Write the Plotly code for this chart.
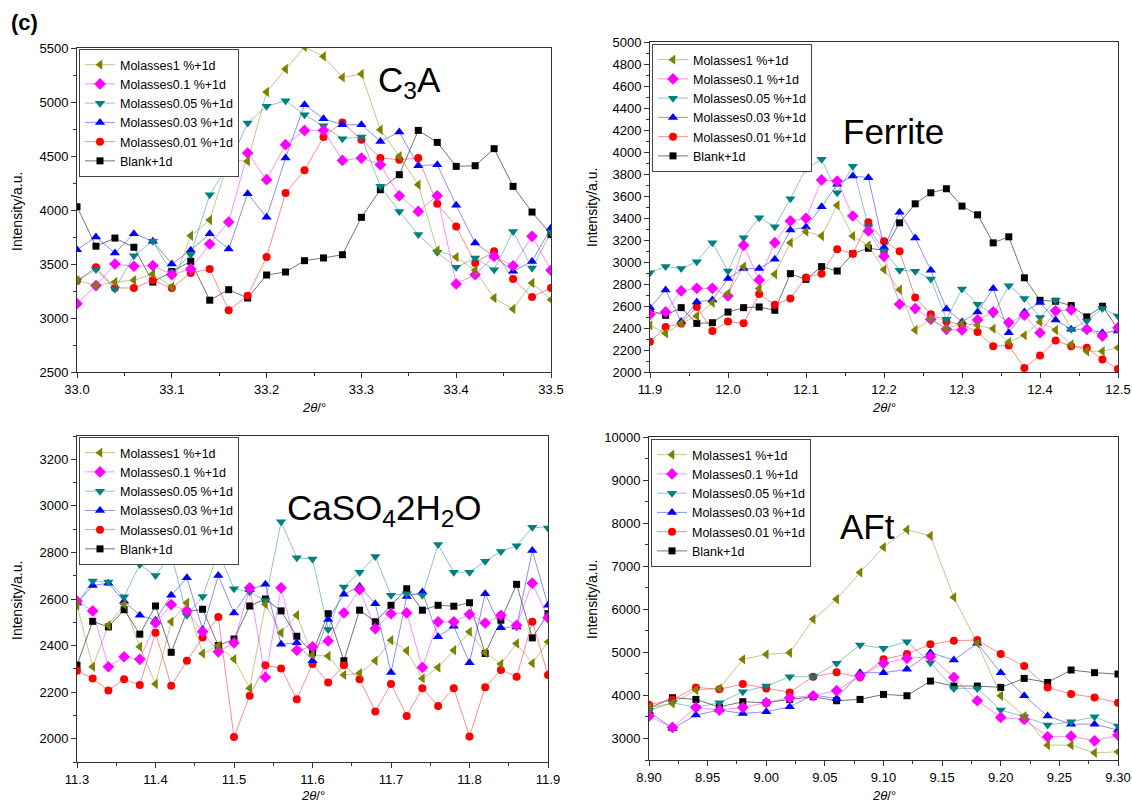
import plotly.graph_objects as go

W, H = 1132, 803

# ---------------- data ----------------
NAMES = ["Molasses1 %+1d", "Molasses0.1 %+1d", "Molasses0.05 %+1d",
         "Molasses0.03 %+1d", "Molasses0.01 %+1d", "Blank+1d"]

C3A_X = [33.00, 33.02, 33.04, 33.06, 33.08, 33.10, 33.12, 33.14, 33.16, 33.18, 33.20, 33.22, 33.24,
         33.26, 33.28, 33.30, 33.32, 33.34, 33.36, 33.38, 33.40, 33.42, 33.44, 33.46, 33.48, 33.50]
C3A_M1 = [3349, 3300, 3333, 3349, 3407, 3287, 3762, 3907, 4463, 4451, 5093, 5306, 5510,
          5422, 5228, 5259, 4743, 4497, 4234, 3626, 3564, 3441, 3185, 3083, 3324, 3170]
C3A_M01 = [3133, 3300, 3500, 3479, 3485, 3401, 3454, 3685, 3889, 4528, 4281, 4605, 4737,
           4737, 4459, 4481, 4420, 4132, 3987, 4132, 3315, 3401, 3571, 3484, 3756, 3441]
C3A_M005 = [3345, 3448, 3269, 3577, 3710, 3420, 3587, 4142, 4420, 4806, 4960, 5012, 4882,
            4780, 4660, 4676, 4219, 3987, 3772, 3608, 3469, 3556, 3447, 3802, 3463, 3793]
C3A_M003 = [3633, 3750, 3602, 3781, 3710, 3500, 3627, 3781, 3639, 4151, 3932, 4481, 4975,
            4846, 4790, 4790, 4635, 4722, 4410, 4420, 4043, 3694, 3571, 3432, 3524, 3833]
C3A_M001 = [3345, 3469, 3278, 3278, 3349, 3278, 3417, 3454, 3071, 3207, 3565, 4157, 4367,
            4676, 4811, 4651, 4481, 4466, 4481, 4058, 3848, 3509, 3617, 3361, 3194, 3278]
C3A_BLANK = [4030, 3665, 3740, 3655, 3333, 3430, 3525, 3165, 3262, 3185, 3398, 3426, 3531,
             3556, 3586, 3932, 4188, 4327, 4737, 4626, 4404, 4410, 4568, 4219, 3981, 3772]

FER_X = [11.90, 11.92, 11.94, 11.96, 11.98, 12.00, 12.02, 12.04, 12.06, 12.08, 12.10, 12.12, 12.14,
         12.16, 12.18, 12.20, 12.22, 12.24, 12.26, 12.28, 12.30, 12.32, 12.34, 12.36, 12.38, 12.40,
         12.42, 12.44, 12.46, 12.48, 12.50]
FER_M1 = [2424, 2352, 2443, 2509, 2630, 2715, 2958, 2758, 2888, 3176, 3276, 3236, 3515,
          3236, 3150, 2931, 2748, 2382, 2485, 2394, 2443, 2424, 2394, 2272, 2333, 2455,
          2382, 2250, 2189, 2189, 2220]
FER_M01 = [2524, 2546, 2737, 2761, 2761, 2691, 3152, 2837, 3176, 3373, 3397, 3746, 3736,
           3418, 3282, 3052, 2617, 2577, 2480, 2388, 2382, 2473, 2546, 2449, 2516, 2357,
           2556, 2565, 2388, 2327, 2403]
FER_M005 = [2903, 2958, 2940, 3003, 3176, 2918, 3221, 3403, 3321, 3576, 3849, 3933, 3630,
            3871, 3320, 3100, 2925, 2916, 2846, 2480, 2754, 2617, 2525, 2785, 2669, 2495,
            2650, 2388, 2464, 2577, 2510]
FER_M003 = [2585, 2746, 2458, 2637, 2655, 2849, 2940, 2940, 3024, 3291, 3318, 3503, 3706,
            3782, 3767, 3130, 3453, 3219, 2925, 2573, 2455, 2546, 2760, 2357, 2546, 2632,
            2473, 2388, 2388, 2357, 2372]
FER_M001 = [2275, 2409, 2440, 2592, 2372, 2458, 2443, 2708, 2611, 2669, 2860, 2894, 3115,
            3076, 3362, 3189, 3098, 2678, 2525, 2460, 2430, 2363, 2235, 2241, 2037, 2150,
            2287, 2235, 2220, 2113, 2027]
FER_BLANK = [2560, 2515, 2585, 2442, 2448, 2545, 2585, 2591, 2561, 2894, 2842, 2958, 2918,
             3076, 3125, 3107, 3356, 3529, 3629, 3666, 3508, 3429, 3174, 3229, 2856, 2652,
             2643, 2604, 2501, 2598, 2390]

CAS_X = [11.30, 11.32, 11.34, 11.36, 11.38, 11.40, 11.42, 11.44, 11.46, 11.48, 11.50, 11.52, 11.54,
         11.56, 11.58, 11.60, 11.62, 11.64, 11.66, 11.68, 11.70, 11.72, 11.74, 11.76, 11.78, 11.80,
         11.82, 11.84, 11.86, 11.88, 11.90]
CAS_M1 = [2573, 2309, 2487, 2577, 2395, 2235, 2502, 2584, 2366, 2399, 2342, 2217, 2577, 2455,
          2530, 2359, 2355, 2274, 2281, 2335, 2423, 2378, 2259, 2306, 2380, 2459, 2369, 2321,
          2409, 2324, 2416]
CAS_M01 = [2591, 2549, 2309, 2352, 2341, 2497, 2576, 2549, 2459, 2373, 2412, 2648, 2264, 2648,
           2380, 2395, 2420, 2540, 2640, 2473, 2537, 2540, 2306, 2502, 2502, 2534, 2497, 2530,
           2487, 2668, 2520]
CAS_M005 = [2580, 2677, 2673, 2610, 2748, 2701, 2794, 2530, 2611, 2801, 2644, 2630, 2594, 2932,
            2777, 2772, 2469, 2651, 2715, 2782, 2616, 2623, 2616, 2834, 2715, 2715, 2762, 2804,
            2829, 2908, 2905]
CAS_M003 = [2583, 2658, 2668, 2590, 2530, 2509, 2616, 2691, 2469, 2701, 2540, 2640, 2663, 2406,
            2412, 2335, 2512, 2620, 2654, 2580, 2284, 2611, 2630, 2438, 2483, 2326, 2623, 2477,
            2480, 2808, 2573]
CAS_M001 = [2292, 2259, 2207, 2255, 2231, 2455, 2227, 2335, 2435, 2523, 2007, 2185, 2316, 2302,
            2170, 2321, 2241, 2316, 2255, 2117, 2235, 2098, 2217, 2141, 2217, 2010, 2221, 2295,
            2266, 2502, 2274]
CAS_BLANK = [2316, 2504, 2480, 2554, 2449, 2570, 2371, 2545, 2556, 2400, 2428, 2570, 2600, 2549,
             2440, 2369, 2537, 2335, 2552, 2502, 2573, 2644, 2552, 2573, 2569, 2584, 2366, 2509,
             2663, 2433, 2537]

AFT_X = [8.90, 8.92, 8.94, 8.96, 8.98, 9.00, 9.02, 9.04, 9.06, 9.08, 9.10, 9.12, 9.14,
         9.16, 9.18, 9.20, 9.22, 9.24, 9.26, 9.28, 9.30]
AFT_M1 = [3720, 3814, 4124, 4163, 4837, 4953, 4992, 5767, 6233, 6853, 7442, 7845, 7705,
          6279, 5209, 3992, 3519, 2845, 2845, 2667, 2690]
AFT_M01 = [3519, 3256, 3720, 3660, 3720, 3830, 3946, 3992, 4109, 4449, 4744, 4860, 4899,
           4419, 3876, 3488, 3442, 3039, 3054, 2946, 3078]
AFT_M005 = [3650, 3829, 3720, 3829, 4085, 4217, 4434, 4434, 4744, 5170, 5093, 5248, 4760,
            4163, 4163, 3659, 3504, 3310, 3388, 3504, 3287]
AFT_M003 = [3620, 3233, 3543, 3659, 3581, 3620, 3736, 4008, 3930, 4527, 4527, 4605, 4992,
            4822, 5209, 4527, 3992, 3519, 3333, 3333, 3194]
AFT_M001 = [3780, 3900, 4186, 4140, 4264, 4163, 4070, 4434, 4535, 4419, 4837, 4961, 5186,
            5271, 5287, 4961, 4682, 4186, 4031, 3953, 3829]
AFT_BLANK = [3700, 3946, 3907, 3730, 3853, 3829, 3907, 3969, 3876, 3907, 4023, 3992, 4333,
             4217, 4217, 4186, 4395, 4302, 4589, 4527, 4496]

# ---------------- style ----------------
FONT = "Liberation Sans, Arial, Helvetica, sans-serif"
MARKER_COLORS = ["#808000", "#FF00FF", "#008080", "#0000FF", "#FF0000", "#000000"]
LINE_COLORS = ["rgba(128,128,0,0.45)", "rgba(255,0,255,0.45)", "rgba(0,128,128,0.45)",
               "rgba(0,0,255,0.45)", "rgba(255,0,0,0.45)", "rgba(0,0,0,0.55)"]
SYMBOLS = ["triangle-left", "diamond", "triangle-down", "triangle-up", "circle", "square"]
SIZES = [9, 9, 9, 9, 8, 7]

panels = [
    (C3A_X, [C3A_M1, C3A_M01, C3A_M005, C3A_M003, C3A_M001, C3A_BLANK], "x", "y", "legend"),
    (FER_X, [FER_M1, FER_M01, FER_M005, FER_M003, FER_M001, FER_BLANK], "x2", "y2", "legend2"),
    (CAS_X, [CAS_M1, CAS_M01, CAS_M005, CAS_M003, CAS_M001, CAS_BLANK], "x3", "y3", "legend3"),
    (AFT_X, [AFT_M1, AFT_M01, AFT_M005, AFT_M003, AFT_M001, AFT_BLANK], "x4", "y4", "legend4"),
]

fig = go.Figure()
for xs, series, xa, ya, lg in panels:
    for si in reversed(range(6)):
        fig.add_trace(go.Scatter(
            x=xs, y=series[si], mode="lines+markers", name=NAMES[si],
            legend=lg, xaxis=xa, yaxis=ya,
            line=dict(color=LINE_COLORS[si], width=1),
            marker=dict(symbol=SYMBOLS[si], size=SIZES[si], color=MARKER_COLORS[si],
                        line=dict(width=0)),
        ))


def fx(px):
    return px / W


def fy(py):
    return 1 - py / H


def axis(domain, anchor, rng, dtick, minor_dtick, fmt, tick0=0):
    return dict(
        domain=domain, anchor=anchor, range=rng, dtick=dtick, tick0=tick0,
        tickformat=fmt,
        showline=True, linecolor="#333", linewidth=1, mirror=True,
        ticks="outside", ticklen=5, tickwidth=1, tickcolor="#333",
        showgrid=False, zeroline=False, automargin=False,
        tickfont=dict(family=FONT, size=13, color="#000"),
        minor=dict(ticks="outside", ticklen=3, tickwidth=1, tickcolor="#333",
                   dtick=minor_dtick, tick0=tick0, showgrid=False),
    )


# plot boxes in pixels: (left, right, top, bottom)
B1 = (77, 551, 48, 372)
B2 = (650, 1118, 42, 372)
B3 = (77, 548, 436, 762)
B4 = (649, 1118, 437, 760)


def dom(b):
    return [fx(b[0]), fx(b[1])], [fy(b[3]), fy(b[2])]


d1x, d1y = dom(B1)
d2x, d2y = dom(B2)
d3x, d3y = dom(B3)
d4x, d4y = dom(B4)

fig.update_layout(
    xaxis=axis(d1x, "y", [33.0, 33.5], 0.1, 0.05, ".1f"),
    yaxis=axis(d1y, "x", [2500, 5500], 500, 250, "d"),
    xaxis2=axis(d2x, "y2", [11.9, 12.5], 0.1, 0.05, ".1f"),
    yaxis2=axis(d2y, "x2", [2000, 5000], 200, 100, "d"),
    xaxis3=axis(d3x, "y3", [11.3, 11.9], 0.1, 0.05, ".1f"),
    yaxis3=axis(d3y, "x3", [1900, 3300], 200, 100, "d"),
    xaxis4=axis(d4x, "y4", [8.9, 9.3], 0.05, 0.025, ".2f"),
    yaxis4=axis(d4y, "x4", [2500, 10000], 1000, 500, "d"),
)


def leg(px, py):
    return dict(x=fx(px), y=fy(py), xanchor="left", yanchor="top",
                bgcolor="white", bordercolor="#444", borderwidth=1,
                font=dict(family=FONT, size=12.5, color="#000"),
                traceorder="reversed", itemwidth=30, tracegroupgap=0)


fig.update_layout(
    legend=leg(79, 49), legend2=leg(652, 44), legend3=leg(79, 437), legend4=leg(651, 439),
    width=W, height=H, margin=dict(l=0, r=0, t=0, b=0),
    paper_bgcolor="white", plot_bgcolor="white", showlegend=True,
)

ann = []


def text(px, py, s, size, **kw):
    a = dict(x=fx(px), y=fy(py), xref="paper", yref="paper", text=s, showarrow=False,
             font=dict(family=FONT, size=size, color="#000"), xanchor="center", yanchor="middle")
    a.update(kw)
    ann.append(a)


# panel labels
text(409, 82, "C<sub>3</sub>A", 35)
text(894, 131, "Ferrite", 35)
text(384, 510, "CaSO<sub>4</sub>2H<sub>2</sub>O", 35)
text(867, 526, "AFt", 35)
text(24, 22, "<b>(c)</b>", 22)

# axis titles
for cx, cy in [(17, 212), (592, 208), (17, 601), (592, 600)]:
    text(cx, cy, "Intensity/a.u.", 14, textangle=-90)
for cx, cy in [(314, 407), (884, 407), (313, 795), (884, 795)]:
    text(cx, cy, "<i>2θ</i>/°", 13)

fig.update_layout(annotations=ann)

fig.write_html("out.html")
